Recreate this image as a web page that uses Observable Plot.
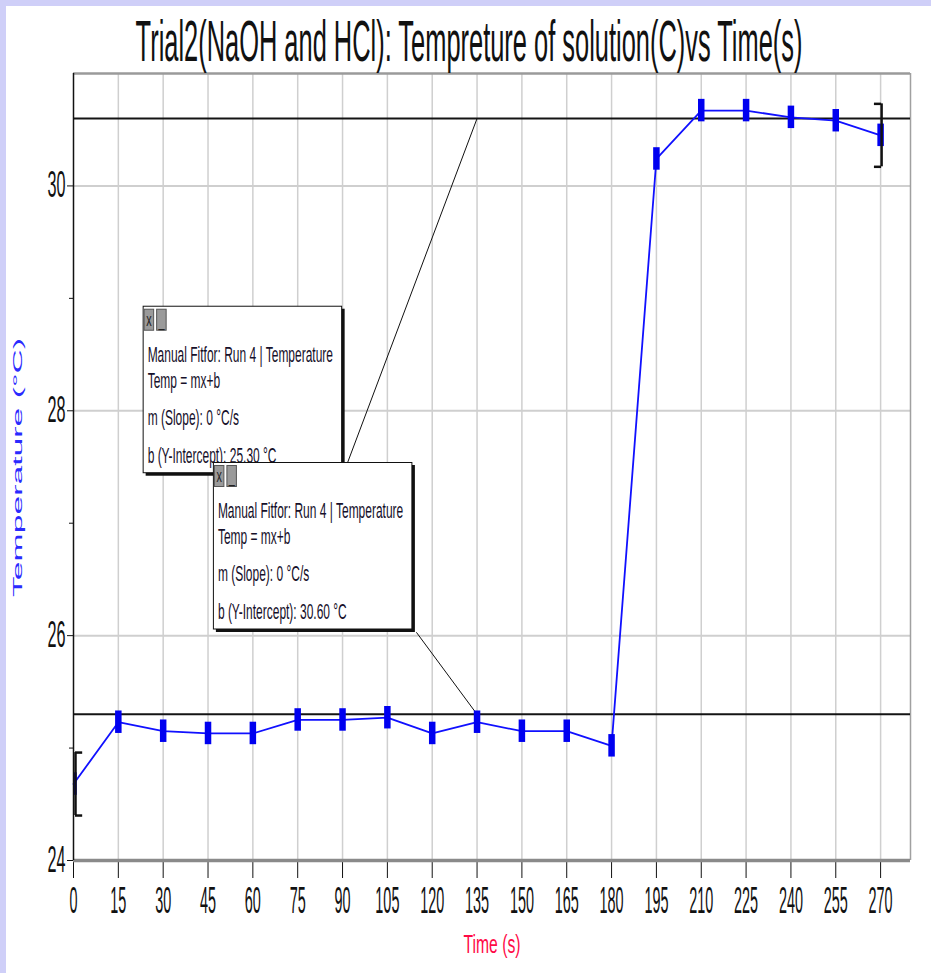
<!DOCTYPE html>
<html>
<head>
<meta charset="utf-8">
<script src="https://cdn.jsdelivr.net/npm/d3@7"></script>
<script src="https://cdn.jsdelivr.net/npm/@observablehq/plot@0.6"></script>
<style>
  body { margin: 0; background: #fff; }
  #wrap { position: relative; width: 931px; height: 973px; overflow: hidden; background: #fff; }
  .strip { position: absolute; background: #cfcff8; z-index: 5; }
</style>
</head>
<body>
<div id="wrap">
  <div class="strip" style="left:0;top:0;width:931px;height:6px"></div>
  <div class="strip" style="left:0;top:0;width:6px;height:973px"></div>
</div>
<script>
// ---- data ----
const times = [0, 15, 30, 45, 60, 75, 90, 105, 120, 135, 150, 165, 180, 195, 210, 225, 240, 255, 270];
const temps = [24.68, 25.23, 25.15, 25.13, 25.13, 25.25, 25.25, 25.27, 25.13, 25.23, 25.15, 25.15, 25.02, 30.24, 30.67, 30.67, 30.61, 30.58, 30.45];
const xTickValues = [0, 15, 30, 45, 60, 75, 90, 105, 120, 135, 150, 165, 180, 195, 210, 225, 240, 255, 270];
const yTickValues = [24, 26, 28, 30];
const yMinorTicks = [25, 27, 29];
const fitIntercepts = [25.30, 30.60];
const titleText = "Trial2(NaOH and HCl): Tempreture of solution(C)vs Time(s)";
const xLabel = "Time (s)";
const yLabel = "Temperature (°C)";
const callout1Lines = ["Manual Fitfor: Run 4 | Temperature", "Temp = mx+b", "m (Slope): 0 °C/s", "b (Y-Intercept): 25.30 °C"];
const callout2Lines = ["Manual Fitfor: Run 4 | Temperature", "Temp = mx+b", "m (Slope): 0 °C/s", "b (Y-Intercept): 30.60 °C"];
const calloutTime = [23.3, 46.8];   // top-left corner of each callout box
const calloutTemp = [28.93, 27.54];
const leaderFromTime = [135, 135];
const leaderFromTemp = [30.60, 25.30];
const leaderToTime = [91.7, 114.7];
const leaderToTemp = [27.54, 26.03];
const bracketHalf = 0.28;

// ---- tables ----
const data = times.map((t, i) => ({time: t, temp: temps[i]}));
const leaders = leaderFromTime.map((t, i) => ({t1: t, v1: leaderFromTemp[i], t2: leaderToTime[i], v2: leaderToTemp[i]}));
const callouts = [
  {time: calloutTime[0], temp: calloutTemp[0], lines: callout1Lines},
  {time: calloutTime[1], temp: calloutTemp[1], lines: callout2Lines}
];
const first = data[0], last = data[data.length - 1];

function bracketMarks(p, dir, dx) {
  return [
    Plot.ruleX([p], {x: "time", y1: d => d.temp - bracketHalf, y2: d => d.temp + bracketHalf, stroke: "#111", strokeWidth: 2.5, dx}),
    Plot.ruleY([p.temp - bracketHalf, p.temp + bracketHalf], {x1: p.time, x2: p.time + dir * 2.4, stroke: "#111", strokeWidth: 2.5, dx})
  ];
}

const plot = Plot.plot({
  width: 931,
  height: 973,
  marginTop: 73,
  marginRight: 21,
  marginBottom: 113,
  marginLeft: 73,
  x: {domain: [0, 280], label: null},
  y: {domain: [24, 31], label: null},
  style: {background: "#fff", fontFamily: "'Liberation Sans', Arial, sans-serif", color: "#111", overflow: "visible"},
  marks: [
    Plot.ruleX(xTickValues.filter(d => d > 0), {stroke: "#cfcfcf", strokeWidth: 1.5}),
    Plot.ruleY(yTickValues.filter(d => d > 24), {stroke: "#cfcfcf", strokeWidth: 2}),
    Plot.ruleY([31], {stroke: "#9a9a9a", strokeWidth: 2.5}),
    Plot.ruleX([280], {stroke: "#a0a0a0", strokeWidth: 1.5}),
    Plot.ruleY(fitIntercepts, {stroke: "#141414", strokeWidth: 2}),
    Plot.link(leaders, {x1: "t1", y1: "v1", x2: "t2", y2: "v2", stroke: "#111", strokeWidth: 1}),
    Plot.line(data, {x: "time", y: "temp", stroke: "#1010ff", strokeWidth: 1.8}),
    Plot.ruleX(data, {x: "time", y1: d => d.temp - 0.1, y2: d => d.temp + 0.1, stroke: "#0000f0", strokeWidth: 6.5, clip: true}),
    ...bracketMarks(first, 1, 2),
    ...bracketMarks(last, -1, 1),
    Plot.axisX(xTickValues, {tickSize: 18, tickPadding: 9, fontSize: 36, stroke: "#111", fill: "#111", tickFormat: d => String(d), label: null}),
    Plot.ruleY([24], {stroke: "#8a8a8a", strokeWidth: 3.5}),
    Plot.ruleX([0], {stroke: "#111", strokeWidth: 1.5}),
    Plot.axisY(yTickValues, {tickSize: 6, tickPadding: 2, fontSize: 36, stroke: "#111", fill: "#111", tickFormat: d => String(d), label: null}),
    Plot.axisY(yMinorTicks, {tickSize: 4, tickFormat: () => "", stroke: "#111", label: null}),
    Plot.text([titleText], {text: d => d, frameAnchor: "top", dx: -23, dy: -13, lineAnchor: "bottom", fontSize: 57, fill: "#111"}),
    Plot.text([xLabel], {text: d => d, frameAnchor: "bottom", dy: 92, lineAnchor: "bottom", fontSize: 26, fill: "#ff0a46"})
  ]
});

document.getElementById("wrap").append(plot);
plot.style.position = "absolute";
plot.style.left = "0";
plot.style.top = "0";

const sx = plot.scale("x"), sy = plot.scale("y");
const svg = d3.select(plot);

// horizontally condense a text around its anchor point (in its own user space)
function squeeze(nodes, fn) {
  Array.from(nodes).forEach(n => {
    const b = n.getBBox();
    if (!b.width) return;
    const s = fn(b.width) / b.width;
    const a = getComputedStyle(n).textAnchor;
    const ax = a === "middle" ? b.x + b.width / 2 : a === "end" ? b.x + b.width : b.x;
    const t = n.getAttribute("transform") || "";
    n.setAttribute("transform", `${t} translate(${ax},0) scale(${s},1) translate(${-ax},0)`);
  });
}
const byContent = str => Array.from(plot.querySelectorAll("text")).filter(n => n.textContent === str);

// y-axis label
const yl = svg.append("text")
  .attr("transform", `translate(22,${(sy.apply(24) + sy.apply(31)) / 2 + 1}) rotate(-90) scale(1,0.4)`)
  .attr("text-anchor", "middle")
  .attr("font-size", 33)
  .attr("font-family", "'Liberation Sans', Arial, sans-serif")
  .attr("fill", "#2a2aff")
  .text(yLabel);

// callouts
const W = 202, H = 170;
const baselines = [56, 82, 119.5, 157];
callouts.forEach(c => {
  const g = svg.append("g").attr("transform", `translate(${sx.apply(c.time)},${sy.apply(c.temp)})`);
  g.append("rect").attr("x", 3).attr("y", 3).attr("width", W - 3).attr("height", H - 3).attr("fill", "#111");
  g.append("rect").attr("x", 0.5).attr("y", 0.5).attr("width", W - 3.5).attr("height", H - 3.5)
    .attr("fill", "#fff").attr("stroke", "#111").attr("stroke-width", 1);
  [[1.5, "x"], [14, "_"]].forEach(([bx, s]) => {
    g.append("rect").attr("x", bx).attr("y", 3.5).attr("width", 9.5).attr("height", 21)
      .attr("fill", "#9a9a9a").attr("stroke", "#555");
    g.append("text").attr("class", "btn").attr("x", bx + 4.75).attr("y", 20).attr("text-anchor", "middle")
      .attr("font-size", 18).attr("font-family", "'Liberation Sans', Arial, sans-serif")
      .attr("fill", "#222").text(s);
  });
  c.lines.forEach((line, i) => {
    g.append("text").attr("class", "cl").attr("x", 5).attr("y", baselines[i])
      .attr("text-anchor", "start")
      .attr("font-size", 22).attr("font-family", "'Liberation Sans', Arial, sans-serif")
      .attr("fill", "#16102a").text(line);
  });
});

squeeze([yl.node()], () => 259);
squeeze(plot.querySelectorAll('g[aria-label="x-axis tick label"] text'), w => w * 0.4);
squeeze(plot.querySelectorAll('g[aria-label="y-axis tick label"] text'), w => w * 0.45);
squeeze(byContent(titleText), () => 667);
squeeze(byContent(xLabel), () => 57);
squeeze(plot.querySelectorAll('text.cl'), w => w * 0.545);
squeeze(plot.querySelectorAll('text.btn'), w => w * 0.6);
</script>
</body>
</html>
